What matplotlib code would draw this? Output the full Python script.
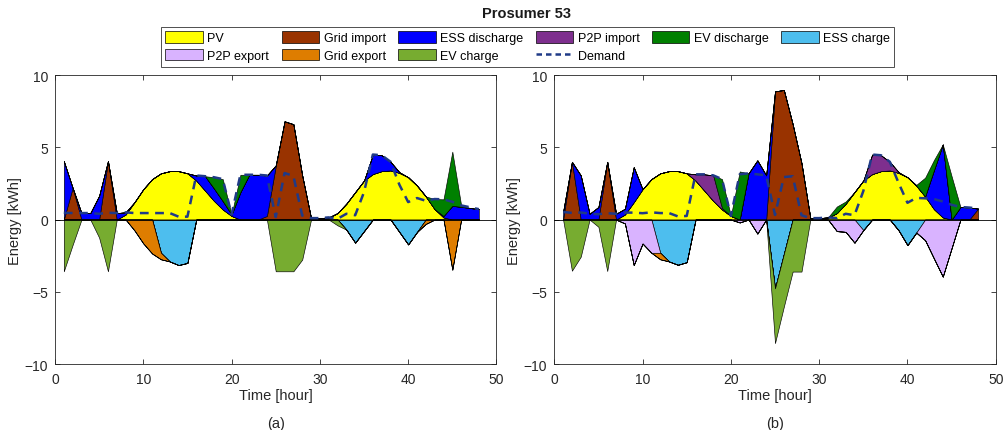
import numpy as np
import matplotlib
matplotlib.use("Agg")
import matplotlib.pyplot as plt
from matplotlib.patches import Patch
from matplotlib.lines import Line2D

plt.rcParams['font.family'] = ['Liberation Sans', 'DejaVu Sans']

hours = list(range(1, 49))

pv = [0, 0, 0, 0, 0, 0, 0, 0.35, 1.2, 2.1, 2.8, 3.2,
      3.35, 3.35, 3.2, 2.7, 2.0, 1.3, 0.7, 0.25, 0, 0, 0, 0,
      0, 0, 0, 0, 0, 0, 0.1, 0.45, 1.1, 1.9, 2.7, 3.15,
      3.35, 3.4, 3.23, 2.93, 2.35, 1.6, 0.72, 0.15, 0, 0, 0, 0]

# ---------------- panel (a) ----------------
grid_imp_a = [0, 2.2, 0, 0, 0, 4.05, 0, 0, 0, 0, 0, 0,
              0, 0, 0, 0, 0, 0, 0, 0, 0, 0, 0, 0.25,
              3.7, 6.8, 6.6, 3.05, 0.1, 0.1, 0.05, 0, 0, 0, 0, 0,
              0, 0, 0, 0, 0, 0, 0, 0, 0, 0, 0, 0]
ess_dis_a = [4.05, 0, 0.45, 0.45, 1.65, 0, 0.45, 0.15, 0, 0, 0, 0,
             0, 0, 0, 0.35, 1.0, 0.86, 0.58, 0.1, 1.9, 3.1, 3.1, 2.8,
             0.05, 0, 0, 0, 0, 0, 0, 0, 0, 0, 0, 1.35,
             1.1, 0.6, 0.05, 0, 0, 0, 0, 0.1, 0.95, 0.88, 0.8, 0.72]
p2p_imp_a = [0] * 48
ev_dis_a = [0, 0, 0, 0, 0, 0, 0, 0, 0, 0, 0, 0,
            0, 0, 0, 0, 0, 0.77, 1.52, 0, 1.2, 0, 0, 0,
            0, 0, 0, 0, 0, 0, 0, 0, 0, 0, 0, 0,
            0, 0, 0, 0, 0, 0, 0.7, 1.15, 3.75, 0.1, 0, 0]
ess_ch_a = [0, 0, 0, 0, 0, 0, 0, 0, 0, 0, 0, -2.3,
            -2.9, -3.15, -3.0, 0, 0, 0, 0, 0, 0, 0, 0, 0,
            0, 0, 0, 0, 0, 0, 0, 0, -0.7, -1.6, -0.8, 0,
            0, 0, -0.86, -1.72, -0.86, 0, 0, 0, 0, 0, 0, 0]
p2p_exp_a = [0] * 48
grid_exp_a = [0, 0, 0, 0, 0, 0, 0, 0, -0.75, -1.65, -2.35, -0.45,
              0, 0, 0, 0, 0, 0, 0, 0, 0, 0, 0, 0,
              0, 0, 0, 0, 0, 0, 0, 0, 0, 0, 0, 0,
              0, 0, 0, 0, 0, -0.3, 0, 0, -3.47, 0, 0, 0]
ev_ch_a = [-3.58, -1.75, 0, 0, -1.25, -3.58, 0, 0, 0, 0, 0, 0,
           0, 0, 0, 0, 0, 0, 0, 0, 0, 0, 0, 0,
           -3.58, -3.58, -3.58, -2.77, 0, 0, 0, -0.4, 0, 0, 0, 0,
           0, 0, 0, 0, 0, 0, 0, 0, 0, 0, 0, 0]
demand_a = [0.47, 0.45, 0.45, 0.45, 0.4, 0.47, 0.45, 0.5, 0.45, 0.45, 0.45, 0.45,
            0.45, 0.2, 0.2, 3.05, 3.0, 2.93, 2.8, 0.35, 3.1, 3.1, 3.1, 3.05,
            0.17, 3.22, 3.02, 0.28, 0.1, 0.1, 0.15, 0.05, 0.4, 0.3, 1.9, 4.5,
            4.45, 4.0, 2.42, 1.21, 1.49, 1.3, 1.42, 1.4, 1.23, 0.98, 0.85, 0.72]

# ---------------- panel (b) ----------------
grid_imp_b = [0, 4.0, 0, 0, 0, 4.0, 0, 0, 0, 0, 0, 0,
              0, 0, 0, 0, 0, 0, 0, 0, 0, 0, 0, 0,
              8.87, 8.97, 6.6, 3.9, 0.1, 0.1, 0.05, 0, 0, 0, 0, 0,
              0, 0, 0, 0, 0, 0, 0, 0, 0, 0, 0, 0.76]
ess_dis_b = [0.53, 0, 3.06, 0.4, 0.87, 0, 0.4, 0.4, 2.43, 0, 0, 0,
             0, 0, 0, 0, 0, 0, 0, 0, 0, 3.2, 4.1, 3.06,
             0, 0, 0, 0, 0, 0, 0, 0, 0, 0, 0, 0,
             0, 0, 0, 0, 0, 0, 2.7, 5.05, 0, 0.87, 0.83, 0]
p2p_imp_b = [0, 0, 0, 0, 0, 0, 0, 0, 0, 0, 0, 0,
             0, 0, 0, 0.43, 1.13, 1.76, 0.1, 0, 0, 0, 0, 0,
             0, 0, 0, 0, 0, 0, 0, 0, 0, 0, 0, 1.35,
             1.1, 0.6, 0.05, 0, 0, 0, 0, 0, 0, 0, 0, 0]
ev_dis_b = [0, 0, 0, 0, 0, 0, 0, 0, 0, 0, 0, 0,
            0, 0, 0, 0, 0, 0, 2.0, 0, 3.33, 0, 0, 0,
            0, 0, 0, 0, 0, 0, 0, 0.45, 0.15, 0, 0, 0,
            0, 0, 0, 0, 0.05, 1.3, 0.7, 0, 3.0, 0, 0, 0]
ess_ch_b = [0, 0, 0, 0, 0, 0, 0, 0, 0, 0, 0, -2.3,
            -2.9, -3.13, -2.95, 0, 0, 0, 0, 0, 0, 0, 0, 0,
            -4.76, -2.38, 0, 0, 0, 0, 0, 0, 0, 0, -0.73, 0,
            0, 0, -0.75, -1.77, -0.9, 0, 0, 0, 0, 0, 0, 0]
p2p_exp_b = [0, 0, 0, 0, 0, 0, 0, -0.27, -3.15, -1.66, -2.3, 0,
             0, 0, 0, 0, 0, 0, 0, 0, -0.2, 0, -0.97, 0,
             0, 0, 0, 0, 0, 0, 0, -0.8, -0.85, -1.6, 0, 0,
             0, 0, 0, 0, 0, -1.43, -2.7, -3.95, -1.98, 0, 0, 0]
grid_exp_b = [0, 0, 0, 0, 0, 0, 0, 0, 0, 0, 0, -0.45,
              0, 0, 0, 0, 0, 0, 0, 0, 0, 0, 0, 0,
              0, 0, 0, 0, 0, 0, 0, 0, 0, 0, 0, 0,
              0, 0, 0, 0, 0, 0, 0, 0, 0, 0, 0, 0]
ev_ch_b = [0, -3.54, -2.57, 0, -0.5, -3.56, 0, 0, 0, 0, 0, 0,
           0, 0, 0, 0, 0, 0, 0, 0, 0, 0, 0, 0,
           -3.79, -3.65, -3.6, -3.6, 0, 0, 0, 0, 0, 0, 0, 0,
           0, 0, 0, 0, 0, 0, 0, 0, 0, 0, 0, 0]
demand_b = [0.53, 0.46, 0.49, 0.4, 0.37, 0.44, 0.4, 0.48, 0.48, 0.44, 0.5, 0.45,
            0.45, 0.22, 0.25, 3.13, 3.13, 3.06, 2.8, 0.25, 3.13, 3.2, 3.13, 3.06,
            0.32, 2.94, 3.0, 0.3, 0.1, 0.1, 0.15, 0.1, 0.4, 0.3, 1.97, 4.5,
            4.45, 4.0, 2.53, 1.16, 1.5, 1.47, 1.42, 1.25, 1.02, 0.87, 0.83, 0.76]

pos_labels = ['PV', 'Grid import', 'ESS discharge', 'P2P import', 'EV discharge']
neg_labels = ['ESS charge', 'P2P export', 'Grid export', 'EV charge']
pos_colors = ['#FFFF00', '#993300', '#0000FF', '#7E2F8E', '#008000']
neg_colors = ['#4DBEEE', '#D9B3FF', '#DE7D00', '#77AC30']
demand_color = '#1F3A87'
axis_grey = '#262626'

fig = plt.figure(figsize=(10.05, 4.31), dpi=100)
ax_a = fig.add_axes([0.0547, 0.153, 0.4393, 0.6705])
ax_b = fig.add_axes([0.5515, 0.153, 0.4393, 0.6705])

panels = [
    (ax_a, [pv, grid_imp_a, ess_dis_a, p2p_imp_a, ev_dis_a],
     [ess_ch_a, p2p_exp_a, grid_exp_a, ev_ch_a], demand_a, '(a)'),
    (ax_b, [pv, grid_imp_b, ess_dis_b, p2p_imp_b, ev_dis_b],
     [ess_ch_b, p2p_exp_b, grid_exp_b, ev_ch_b], demand_b, '(b)'),
]

t = np.array(hours)
for ax, pos, neg, dem, tag in panels:
    ax.stackplot(t, *[np.array(s) for s in pos], colors=pos_colors,
                 edgecolor='black', linewidth=0.45)
    ax.stackplot(t, *[np.array(s) for s in neg], colors=neg_colors,
                 edgecolor='black', linewidth=0.45)
    ax.axhline(0, color='black', linewidth=0.6, zorder=3)
    ax.plot(t, dem, color=demand_color, linewidth=1.8, linestyle=(0, (3.5, 2.6)),
            zorder=4)
    ax.set_xlim(0, 50)
    ax.set_ylim(-10, 10)
    ax.set_xticks([0, 10, 20, 30, 40, 50])
    ax.set_yticks([-10, -5, 0, 5, 10])
    ax.tick_params(direction='in', top=True, right=True, length=3.5, width=0.6,
                   colors=axis_grey, labelsize=10)
    ax.tick_params(axis='x', pad=6)
    ax.tick_params(axis='y', pad=5)
    for sp in ax.spines.values():
        sp.set_color(axis_grey)
        sp.set_linewidth(0.6)
    ax.set_xlabel('Time [hour]', fontsize=10.5, color=axis_grey, labelpad=1)
    ax.set_ylabel('Energy [kWh]', fontsize=10.5, color=axis_grey, labelpad=2)
    ax.text(0.5, -0.18, tag, transform=ax.transAxes, ha='center', va='top',
            fontsize=10.5, color=axis_grey)

fig.text(0.524, 0.967, 'Prosumer 53', ha='center', va='center',
         fontsize=10.5, fontweight='bold', color='#1a1a1a')

handles = {}
for lab, c in zip(pos_labels + neg_labels, pos_colors + neg_colors):
    handles[lab] = Patch(facecolor=c, edgecolor='black', linewidth=0.5)
handles['Demand'] = Line2D([0], [0], color=demand_color, linewidth=1.8,
                           linestyle=(0, (2.2, 1.6)))
order = ['PV', 'P2P export', 'Grid import', 'Grid export', 'ESS discharge',
         'EV charge', 'P2P import', 'Demand', 'EV discharge', 'ESS charge']
leg = fig.legend([handles[k] for k in order], order, ncol=6,
                 loc='upper center', bbox_to_anchor=(0.525, 0.935),
                 fontsize=9, frameon=True, fancybox=False, framealpha=1,
                 edgecolor='#333333', handlelength=3.0, handleheight=1.0,
                 handletextpad=0.35, columnspacing=1.0, labelspacing=0.4,
                 borderpad=0.35, borderaxespad=0)
leg.get_frame().set_linewidth(0.6)

fig.savefig('out.png', dpi=100)
